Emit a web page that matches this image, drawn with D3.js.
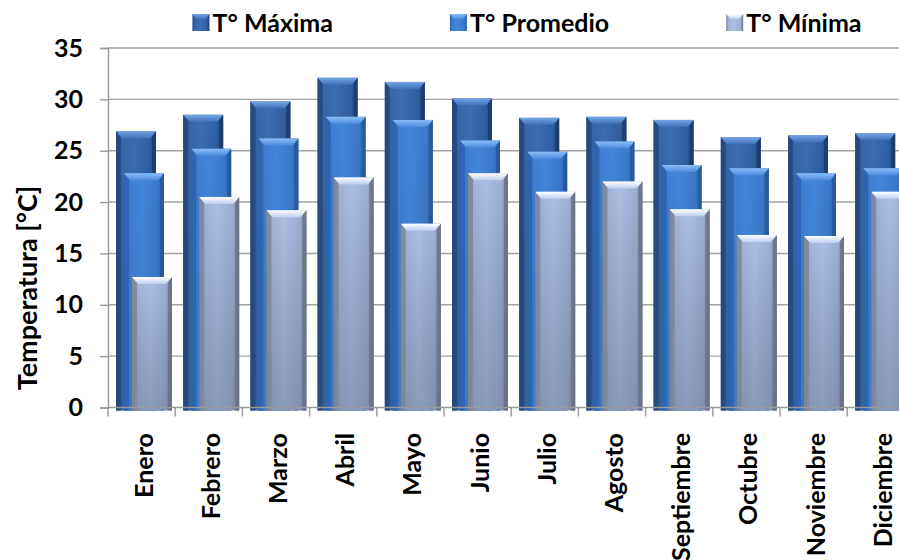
<!DOCTYPE html>
<html>
<head>
<meta charset="utf-8">
<script src="https://cdn.jsdelivr.net/npm/d3@7"></script>
<style>
  body { margin: 0; background: #fff; }
  svg { display: block; font-family: Lato, "DejaVu Sans", sans-serif; font-weight: 700; }
</style>
</head>
<body>
<svg id="chart" width="899" height="560"></svg>
<script>
// Monthly temperatures (°C)
const months = ["Enero", "Febrero", "Marzo", "Abril", "Mayo", "Junio",
                "Julio", "Agosto", "Septiembre", "Octubre", "Noviembre", "Diciembre"];
const seriesNames = ["T° Máxima", "T° Promedio", "T° Mínima"];
const tMax  = [26.9, 28.5, 29.8, 32.1, 31.7, 30.1, 28.2, 28.3, 28.0, 26.3, 26.5, 26.7];
const tProm = [22.8, 25.2, 26.2, 28.3, 28.0, 26.0, 24.9, 25.9, 23.6, 23.3, 22.8, 23.3];
const tMin  = [12.7, 20.5, 19.2, 22.4, 17.9, 22.8, 21.0, 22.0, 19.3, 16.8, 16.7, 21.0];
const yTicks = [0, 5, 10, 15, 20, 25, 30, 35];

const seriesValues = [tMax, tProm, tMin];

const W = 899, H = 560;
const svg = d3.select("#chart");
const defs = svg.append("defs");

const plotLeft = 108, plotTop = 48, plotBottom = 407.5;
const catW = 67.2;

const x = d3.scaleBand()
  .domain(months)
  .range([plotLeft, plotLeft + catW * months.length])
  .padding(0);
const y = d3.scaleLinear().domain([0, 35]).range([plotBottom, plotTop]);
// each series sits a little further right, giving the stacked-depth look
const offset = d3.scalePoint().domain(seriesNames).range([8, 24]);
const barW = 40;
const sink = 3;      // bars run slightly below the axis line
const bevel = 6;     // chamfer size of the column tops

// colour sets for the three series
const palettes = [
  { body: ["#22487f", "#3365a8", "#3a6db3", "#2f5e9e", "#1c3c6b"],
    top: ["#76a5e6", "#3e72ba"], left: "#25497c", right: "#1d3c69", shade: 0.10 },
  { body: ["#2c60a8", "#3d7ed2", "#4286da", "#3a78c8", "#2a5a9c"],
    top: ["#8abdf7", "#4a8ce0"], left: "#2f64ad", right: "#2a5898", shade: 0.08 },
  { body: ["#7c879c", "#a2b4d6", "#acbfe3", "#9eafd1", "#6b7386"],
    top: ["#ffffff", "#bccdef"], left: "#7f889a", right: "#6c7385", shade: 0.22 }
];

palettes.forEach((p, i) => {
  const gb = defs.append("linearGradient").attr("id", "body" + i)
    .attr("x1", 0).attr("x2", 1).attr("y1", 0).attr("y2", 0);
  [0, 0.14, 0.45, 0.85, 1].forEach((o, k) =>
    gb.append("stop").attr("offset", o).attr("stop-color", p.body[k]));
  const gt = defs.append("linearGradient").attr("id", "top" + i)
    .attr("x1", 0).attr("x2", 0).attr("y1", 0).attr("y2", 1);
  gt.append("stop").attr("offset", 0).attr("stop-color", p.top[0]);
  gt.append("stop").attr("offset", 1).attr("stop-color", p.top[1]);
  const gs = defs.append("linearGradient").attr("id", "shade" + i)
    .attr("x1", 0).attr("x2", 0).attr("y1", 0).attr("y2", 1);
  gs.append("stop").attr("offset", 0).attr("stop-color", "#000").attr("stop-opacity", 0);
  gs.append("stop").attr("offset", 1).attr("stop-color", "#1a2030").attr("stop-opacity", p.shade);
});

// gridlines
svg.append("g").selectAll("line")
  .data(yTicks.filter(t => t > 0))
  .join("line")
  .attr("x1", plotLeft).attr("x2", W)
  .attr("y1", d => y(d)).attr("y2", d => y(d))
  .attr("stroke", "#a3a3a3").attr("stroke-width", 1.4);

// columns, back series first
function drawColumn(g, x0, top, bottom, i) {
  const p = palettes[i];
  g.append("rect").attr("x", x0).attr("y", top).attr("width", barW).attr("height", bottom - top)
    .attr("fill", `url(#body${i})`);
  g.append("rect").attr("x", x0).attr("y", top).attr("width", barW).attr("height", bottom - top)
    .attr("fill", `url(#shade${i})`);
  g.append("polygon")
    .attr("points", [[x0, top], [x0 + bevel - 1, top + bevel], [x0 + bevel - 1, bottom], [x0, bottom]].join(" "))
    .attr("fill", p.left).attr("opacity", 0.85);
  g.append("polygon")
    .attr("points", [[x0 + barW, top], [x0 + barW - bevel + 2, top + bevel], [x0 + barW - bevel + 2, bottom], [x0 + barW, bottom]].join(" "))
    .attr("fill", p.right).attr("opacity", 0.85);
  g.append("polygon")
    .attr("points", [[x0, top], [x0 + barW, top], [x0 + barW - bevel, top + bevel + 1], [x0 + bevel, top + bevel + 1]].join(" "))
    .attr("fill", `url(#top${i})`);
}

const bars = svg.append("g");
seriesNames.forEach((s, i) => {
  const g = bars.append("g");
  seriesValues[i].forEach((v, m) => {
    drawColumn(g, x(months[m]) + offset(s), y(v), y(0) + sink, i);
  });
});

// axes
const axisColor = "#9a9a9a";
const yAxis = svg.append("g")
  .attr("transform", `translate(${plotLeft},0)`)
  .call(d3.axisLeft(y).tickValues(yTicks).tickSize(8).tickPadding(17).tickFormat(d3.format("d")));
yAxis.select(".domain").attr("stroke", axisColor).attr("stroke-width", 1.4);
yAxis.selectAll(".tick line").attr("stroke", axisColor).attr("stroke-width", 1.4);
yAxis.selectAll(".tick text")
  .attr("fill", "#000").attr("font-size", 25).attr("font-family", "Lato, sans-serif")
  .attr("font-weight", 700);

const xg = svg.append("g");
xg.append("line")
  .attr("x1", plotLeft).attr("x2", W)
  .attr("y1", y(0)).attr("y2", y(0))
  .attr("stroke", axisColor).attr("stroke-width", 1.4);
const bounds = months.map(m => x(m)).concat([x(months[months.length - 1]) + x.bandwidth()]);
xg.selectAll("line.tick")
  .data(bounds)
  .join("line").attr("class", "tick")
  .attr("x1", d => d).attr("x2", d => d)
  .attr("y1", y(0)).attr("y2", y(0) + 9)
  .attr("stroke", axisColor).attr("stroke-width", 1.4);
xg.selectAll("text")
  .data(months)
  .join("text")
  .attr("transform", d => `translate(${x(d) + x.bandwidth() / 2 + 2},433) rotate(-90)`)
  .attr("text-anchor", "end")
  .attr("dy", "0.36em")
  .attr("font-size", 25)
  .attr("fill", "#000")
  .text(d => d);

// y axis title
svg.append("text")
  .attr("transform", "translate(27,288) rotate(-90)")
  .attr("text-anchor", "middle")
  .attr("dy", "0.36em")
  .attr("font-size", 27)
  .attr("fill", "#000")
  .text("Temperatura [°C]");

// legend
const legend = svg.append("g");
const sq = 17, gapText = 3, gapItem = 117;
const items = legend.selectAll("g").data(seriesNames).join("g");
items.each(function(d, i) {
  const g = d3.select(this);
  g.append("rect").attr("x", 0).attr("y", 14).attr("width", sq).attr("height", sq).attr("fill", `url(#body${i})`);
  g.append("polygon")
    .attr("points", [[0, 14], [sq, 14], [sq - 4, 19], [4, 19]].join(" "))
    .attr("fill", `url(#top${i})`);
  g.append("text").attr("x", sq + gapText).attr("y", 22.5).attr("dy", "0.36em")
    .attr("font-size", 25).attr("fill", "#000").text(d);
});
const widths = [];
items.each(function() { widths.push(this.getBBox().width); });
const total = d3.sum(widths) + gapItem * (widths.length - 1);
let cursor = 527 - total / 2;
items.attr("transform", (d, i) => {
  const t = `translate(${cursor},0)`;
  cursor += widths[i] + gapItem;
  return t;
});
</script>
</body>
</html>
